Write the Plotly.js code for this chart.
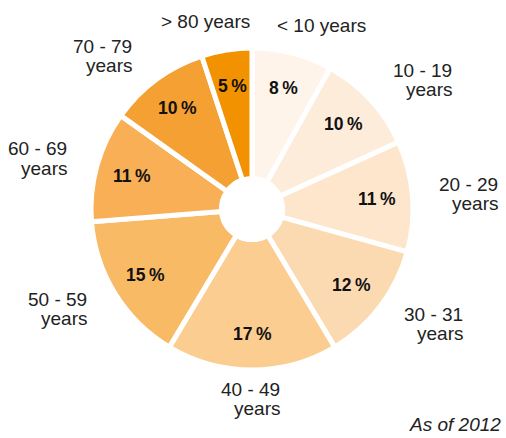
<!DOCTYPE html>
<html>
<head>
<meta charset="utf-8">
<script src="https://cdn.plot.ly/plotly-3.0.1.min.js"></script>
<style>html,body{margin:0;padding:0;background:#fff;}#chart{width:506px;height:438px;}</style>
</head>
<body>
<div id="chart"></div>
<script>
const categories = ["< 10 years", "10 - 19<br>years", "20 - 29<br>years", "30 - 31<br>years", "40 - 49<br>years", "50 - 59<br>years", "60 - 69<br>years", "70 - 79<br>years", "> 80 years"];
const shares = [8, 10, 11, 12, 17, 15, 11, 10, 5];
const sliceColors = ["#FEF4EA", "#FDECD9", "#FDE6CC", "#FCDAB1", "#FBCD90", "#F9BA66", "#F8AF55", "#F5A032", "#F29200"];
const note = "As of 2012";

const W = 506, H = 438;
const cx = 252, cy = 209, R = 161;
const FONT = "Liberation Sans, Arial, sans-serif";
const labelSize = 19, lineH = 19.5;

const data = [{
  type: "pie",
  values: shares,
  labels: categories,
  sort: false,
  direction: "clockwise",
  rotation: 0,
  hole: 0.19,
  textinfo: "none",
  marker: {colors: sliceColors, line: {color: "#ffffff", width: 5}},
  hoverinfo: "none",
  showlegend: false,
  domain: {x: [(cx - R) / W, (cx + R) / W], y: [(H - cy - R) / H, (H - cy + R) / H]}
}];

const canvas = document.createElement("canvas");
const ctx = canvas.getContext("2d");
ctx.font = labelSize + "px 'Liberation Sans'";

const total = shares.reduce((a, b) => a + b, 0);
let cum = 0;
const annotations = [];
const RX = 176, PUSH = 43, RY = 190, RP = 125;
const toPaper = (px, py) => ({x: px / W, y: 1 - py / H});

categories.forEach((lab, i) => {
  const mid = (cum + shares[i] / 2) / total * 2 * Math.PI;
  cum += shares[i];
  const s = Math.sin(mid), c = Math.cos(mid);
  // percentage inside slice
  const pp = toPaper(cx + RP * s, cy - RP * c);
  annotations.push({
    xref: "paper", yref: "paper", x: pp.x, y: pp.y,
    xanchor: "center", yanchor: "middle", showarrow: false,
    text: "<b>" + shares[i] + "\u2009%</b>",
    font: {family: FONT, size: 17.5, color: "#111"}
  });
  // category label outside, lines right-aligned
  const lines = lab.split("<br>");
  const bw = Math.max(...lines.map(t => ctx.measureText(t).width));
  const bh = lines.length * lineH;
  const lx = cx + RX * s + PUSH * Math.sign(s) * Math.min(1, Math.abs(s) / 0.4);
  const ly = cy - RY * c;
  const right = lx + bw / 2;
  lines.forEach((t, k) => {
    const p = toPaper(right, ly - bh / 2 + lineH * (k + 0.5));
    annotations.push({
      xref: "paper", yref: "paper", x: p.x, y: p.y,
      xanchor: "right", yanchor: "middle", showarrow: false,
      text: t, font: {family: FONT, size: labelSize, color: "#222"}
    });
  });
});

const np = toPaper(503, 424);
annotations.push({
  xref: "paper", yref: "paper", x: np.x, y: np.y,
  xanchor: "right", yanchor: "middle", text: note, showarrow: false,
  font: {family: FONT, size: labelSize, color: "#222", style: "italic"}
});

const layout = {
  width: W, height: H,
  margin: {l: 0, r: 0, t: 0, b: 0},
  paper_bgcolor: "#ffffff",
  annotations: annotations
};

Plotly.newPlot("chart", data, layout, {displayModeBar: false, staticPlot: true});
</script>
</body>
</html>
